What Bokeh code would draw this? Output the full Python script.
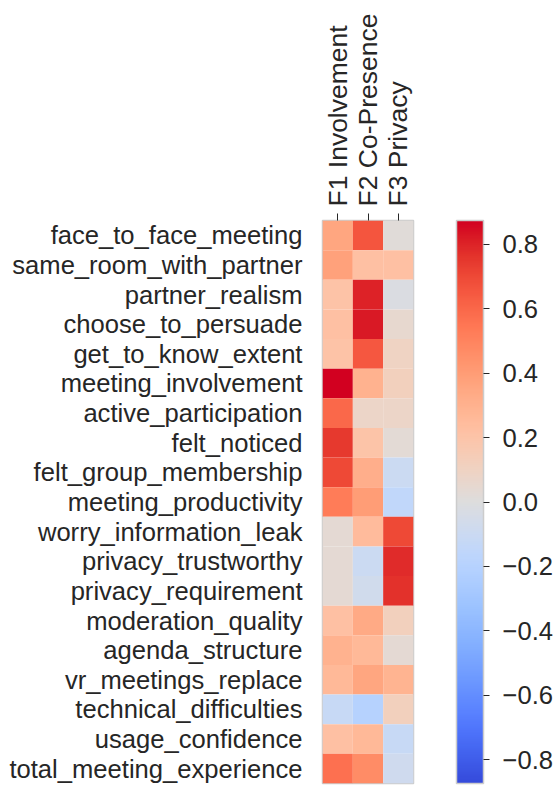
import numpy as np
from bokeh.plotting import figure
from bokeh.models import ColumnDataSource, LinearColorMapper, ColorBar, FixedTicker
from bokeh.embed import file_html
from bokeh.resources import INLINE

rows = ["face_to_face_meeting", "same_room_with_partner", "partner_realism",
        "choose_to_persuade", "get_to_know_extent", "meeting_involvement",
        "active_participation", "felt_noticed", "felt_group_membership",
        "meeting_productivity", "worry_information_leak", "privacy_trustworthy",
        "privacy_requirement", "moderation_quality", "agenda_structure",
        "vr_meetings_replace", "technical_difficulties", "usage_confidence",
        "total_meeting_experience"]
factors = ["F1 Involvement", "F2 Co-Presence", "F3 Privacy"]

f1 = [0.36, 0.38, 0.21, 0.22, 0.21, 0.874, 0.60, 0.75, 0.70, 0.53, 0.04, 0.04,
      0.04, 0.22, 0.30, 0.26, -0.12, 0.22, 0.57]
f2 = [0.66, 0.22, 0.80, 0.82, 0.65, 0.30, 0.08, 0.20, 0.32, 0.40, 0.25, -0.10,
      -0.07, 0.34, 0.26, 0.36, -0.20, 0.26, 0.47]
f3 = [0.02, 0.22, -0.02, 0.05, 0.10, 0.12, 0.08, 0.03, -0.10, -0.15, 0.70, 0.78,
      0.77, 0.12, 0.04, 0.29, 0.12, -0.12, -0.08]

vmax = 0.874
cbar_ticks = [-0.8, -0.6, -0.4, -0.2, 0.0, 0.2, 0.4, 0.6, 0.8]

# coolwarm colormap (Moreland) anchors, with a saturation boost to match the reference
cw = [(59,76,192),(68,90,204),(77,104,215),(87,117,225),(98,130,234),(108,142,241),
      (119,154,247),(130,165,251),(141,176,254),(152,185,255),(163,194,255),(174,201,253),
      (184,208,249),(194,213,244),(204,217,238),(213,219,230),(221,221,221),(229,216,209),
      (236,211,197),(241,204,185),(245,196,173),(247,187,160),(247,177,148),(247,166,135),
      (244,154,123),(241,141,111),(236,127,99),(229,112,88),(222,96,77),(213,80,66),
      (203,62,56),(192,40,47),(180,4,38)]
cw = np.array(cw, dtype=float)
lum = (0.299 * cw[:, 0] + 0.587 * cw[:, 1] + 0.114 * cw[:, 2])[:, None]
cw = np.clip(lum + 1.25 * (cw - lum), 0, 255)
xs = np.linspace(0, 1, len(cw))
ts = np.linspace(0, 1, 256)
palette = []
for t in ts:
    r = np.interp(t, xs, cw[:, 0]); g = np.interp(t, xs, cw[:, 1]); b = np.interp(t, xs, cw[:, 2])
    palette.append("#%02x%02x%02x" % (int(round(r)), int(round(g)), int(round(b))))

mapper = LinearColorMapper(palette=palette, low=-vmax, high=vmax)

xcol, ycol, val = [], [], []
for series, name in zip([f1, f2, f3], factors):
    for r, v in zip(rows, series):
        xcol.append(name); ycol.append(r); val.append(v)
src = ColumnDataSource(dict(x=xcol, y=ycol, v=val))

FONT = "Liberation Sans"
TXT = "#262626"
FS = "25.6px"

p = figure(x_range=factors, y_range=list(reversed(rows)), x_axis_location="above",
           frame_width=91, frame_height=563, min_border_left=322, min_border_top=220,
           min_border_bottom=2, min_border_right=0,
           output_backend="svg", toolbar_location=None)
p.rect(x="x", y="y", width=1, height=1, source=src,
       fill_color={"field": "v", "transform": mapper}, line_color=None)

p.grid.visible = False
p.outline_line_color = "#cccccc"
p.outline_line_width = 1.5

p.xaxis.major_label_orientation = "vertical"
p.xaxis.major_label_text_font = FONT
p.xaxis.major_label_text_font_size = "26.5px"
p.xaxis.major_label_text_color = TXT
p.xaxis.major_tick_in = 0
p.xaxis.major_tick_out = 7
p.xaxis.major_tick_line_color = TXT
p.xaxis.axis_line_color = None
p.xaxis.major_label_standoff = 7

p.yaxis.major_label_text_font = FONT
p.yaxis.major_label_text_font_size = FS
p.yaxis.major_label_text_color = TXT
p.yaxis.major_tick_in = 0
p.yaxis.major_tick_out = 0
p.yaxis.axis_line_color = None
p.yaxis.major_label_standoff = 20

cb = ColorBar(color_mapper=mapper, width=27, height=563, margin=0, padding=0,
              location=(43, 0),
              ticker=FixedTicker(ticks=cbar_ticks),
              major_label_overrides={t: ("%.1f" % t).replace("-", "\u2212") for t in cbar_ticks},
              major_label_text_font=FONT, major_label_text_font_size=FS,
              major_label_text_color=TXT, label_standoff=13,
              major_tick_in=0, major_tick_out=6, major_tick_line_color=TXT,
              minor_tick_line_color=None,
              bar_line_color="#cccccc", bar_line_width=1.5,
              border_line_color=None, background_fill_color=None)
p.add_layout(cb, "right")

open("out.html", "w").write(file_html(p, INLINE))
